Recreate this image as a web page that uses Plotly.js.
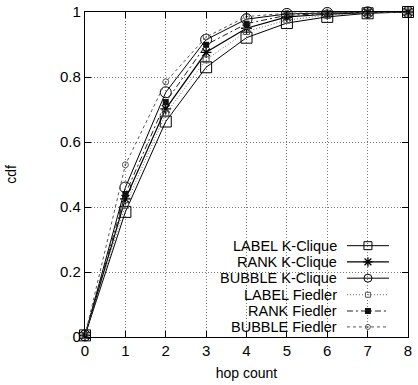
<!DOCTYPE html>
<html><head><meta charset="utf-8">
<script src="https://cdn.plot.ly/plotly-3.0.1.min.js"></script>
<style>html,body{margin:0;padding:0;background:#fff}#c{width:418px;height:385px}</style>
</head><body><div id="c"></div>
<script>
const hops = [0, 1, 2, 3, 4, 5, 6, 7, 8];
const seriesNames = ["LABEL K-Clique", "RANK K-Clique", "BUBBLE K-Clique", "LABEL Fiedler", "RANK Fiedler", "BUBBLE Fiedler"];
const labelKClique  = [0.005, 0.385, 0.663, 0.830, 0.921, 0.966, 0.985, 0.996, 1.0];
const rankKClique   = [0.005, 0.425, 0.702, 0.876, 0.950, 0.985, 0.993, 0.998, 1.0];
const bubbleKClique = [0.005, 0.460, 0.753, 0.915, 0.978, 0.994, 0.997, 0.999, 1.0];
const labelFiedler  = [0.005, 0.405, 0.687, 0.853, 0.940, 0.975, 0.990, 0.997, 1.0];
const rankFiedler   = [0.005, 0.440, 0.723, 0.899, 0.964, 0.990, 0.995, 0.999, 1.0];
const bubbleFiedler = [0.005, 0.530, 0.785, 0.923, 0.986, 0.996, 0.998, 0.999, 1.0];
const xTicks = [0, 1, 2, 3, 4, 5, 6, 7, 8];
const yTicks = [0, 0.2, 0.4, 0.6, 0.8, 1];

const styles = [
  {line:{color:'#000', width:1, dash:'solid'}, marker:{symbol:'square-open', size:11, color:'#000', line:{width:1}}},
  {line:{color:'#000', width:1.2, dash:'solid'}, marker:{symbol:'asterisk-open', size:9, color:'#000', line:{width:1.3, color:'#000'}}},
  {line:{color:'#000', width:1, dash:'solid'}, marker:{symbol:'circle-open', size:11, color:'#000', line:{width:1}}},
  {line:{color:'#666', width:1, dash:'1px,2px'}, marker:{symbol:'square-open', size:6, color:'#555', line:{width:1}}},
  {line:{color:'#222', width:1, dash:'6px,3px,2px,3px'}, marker:{symbol:'square', size:6, color:'#111'}},
  {line:{color:'#555', width:1, dash:'3px,3px'}, marker:{symbol:'circle-open-dot', size:6, color:'#555', line:{width:1}}}
];
const legendMarkerSizes = [8, 8, 8, 5, 6, 5];
const values = [labelKClique, rankKClique, bubbleKClique, labelFiedler, rankFiedler, bubbleFiedler];

const traces = [];
values.forEach((v, i) => {
  traces.push({x: hops, y: v, type:'scatter', mode:'lines+markers', name: seriesNames[i],
    line: styles[i].line, marker: styles[i].marker, showlegend:false, cliponaxis:false});
});
// legend samples (on overlay axes spanning the plot area, range 0..1)
const legendRowsY = [0.281, 0.231, 0.181, 0.130, 0.080, 0.031];
const annotations = [];
seriesNames.forEach((n, i) => {
  traces.push({x:[0.811, 0.941], y:[legendRowsY[i], legendRowsY[i]], xaxis:'x2', yaxis:'y2', type:'scatter', mode:'lines',
    line: styles[i].line, showlegend:false, hoverinfo:'skip'});
  traces.push({x:[0.876], y:[legendRowsY[i]], xaxis:'x2', yaxis:'y2', type:'scatter', mode:'markers',
    marker: Object.assign({}, styles[i].marker, {size: legendMarkerSizes[i]}), showlegend:false, hoverinfo:'skip'});
  annotations.push({xref:'x2', yref:'y2', x:0.782, y:legendRowsY[i], text:n, showarrow:false,
    xanchor:'right', yanchor:'middle', borderpad:0, font:{size:14.5, color:'#000'}});
});

const layout = {
  width:418, height:385,
  margin:{l:85, r:10, t:12, b:48},
  paper_bgcolor:'#fff', plot_bgcolor:'#fff',
  font:{family:'"Liberation Sans", Arial, sans-serif', size:15, color:'#000'},
  showlegend:false,
  xaxis:{range:[0,8], tickvals:xTicks, ticktext:xTicks.map(String), showline:true, mirror:'ticks', linecolor:'#000', linewidth:1.2,
    ticks:'inside', ticklen:6, tickcolor:'#000', showgrid:true, gridcolor:'#777', griddash:'1px,2px', gridwidth:1, zeroline:false,
    title:{text:'hop count', font:{size:14}, standoff:10}},
  yaxis:{range:[0,1], tickvals:yTicks, ticktext:yTicks.map(v=>String(v)), showline:true, mirror:'ticks', linecolor:'#000', linewidth:1.2,
    ticks:'inside', ticklen:6, tickcolor:'#000', showgrid:true, gridcolor:'#777', griddash:'1px,2px', gridwidth:1, zeroline:false,
    title:{text:'cdf', font:{size:14}, standoff:40}},
  xaxis2:{range:[0,1], overlaying:'x', visible:false, fixedrange:true},
  yaxis2:{range:[0,1], overlaying:'y', visible:false, fixedrange:true},
  annotations: annotations
};
Plotly.newPlot('c', traces, layout, {displayModeBar:false, staticPlot:true});
</script></body></html>
